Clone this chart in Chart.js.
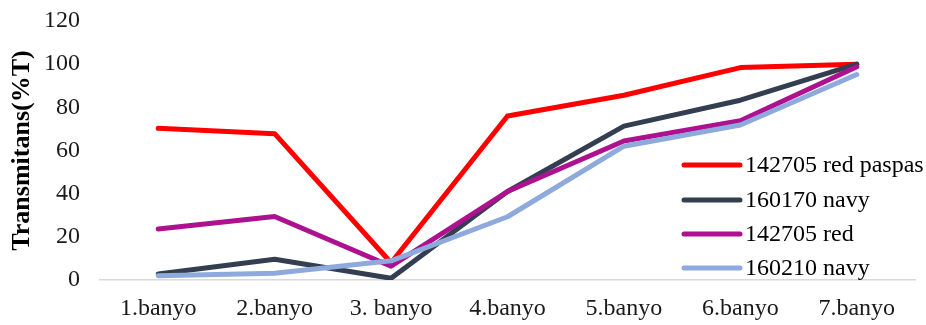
<!DOCTYPE html>
<html>
<head>
<meta charset="utf-8">
<script src="https://cdn.jsdelivr.net/npm/chart.js@4.4.1/dist/chart.umd.min.js"></script>
<style>
  html, body { margin: 0; padding: 0; background: #ffffff; }
  #wrap { width: 926px; height: 325px; }
</style>
</head>
<body>
<div id="wrap"><canvas id="chart" width="926" height="325"></canvas></div>
<script>
// Washing steps (x axis)
const categories = ['1.banyo', '2.banyo', '3. banyo', '4.banyo', '5.banyo', '6.banyo', '7.banyo'];

// Transmittance (%T) per sample after each wash
const seriesNames = ['142705 red paspas', '160170 navy', '142705 red', '160210 navy'];
const redPaspas  = [70.3, 67.8, 8, 76, 85.6, 98.4, 100];
const navy160170 = [2.8, 9.6, 0.8, 41, 71.3, 83.3, 100];
const red142705  = [23.6, 29.4, 6.4, 41, 64.4, 73.8, 98.8];
const navy160210 = [2, 3.1, 8.9, 29.3, 62, 71.8, 95.2];

// Y axis tick values
const yTicks = [0, 20, 40, 60, 80, 100, 120];

const colors = ['#ff0000', '#333f50', '#ad1190', '#8eaadc'];
const values = [redPaspas, navy160170, red142705, navy160210];

const serif = "'Liberation Serif', 'Times New Roman', serif";

// Legend drawn inside the plot area, lower right
const insideLegend = {
  id: 'insideLegend',
  afterDraw(chart) {
    const ctx = chart.ctx;
    const x0 = 684, x1 = 740, tx = 745;
    const rows = [165, 200, 234, 268];
    ctx.save();
    chart.data.datasets.forEach((ds, i) => {
      const y = rows[i];
      ctx.beginPath();
      ctx.lineWidth = 5;
      ctx.lineCap = 'round';
      ctx.strokeStyle = ds.borderColor;
      ctx.moveTo(x0, y);
      ctx.lineTo(x1, y);
      ctx.stroke();
      ctx.fillStyle = '#000000';
      ctx.font = '24px ' + serif;
      ctx.textBaseline = 'middle';
      ctx.textAlign = 'left';
      ctx.fillText(ds.label, tx, y + 1);
    });
    ctx.restore();
  }
};

new Chart(document.getElementById('chart'), {
  type: 'line',
  data: {
    labels: categories,
    datasets: seriesNames.map((name, i) => ({
      label: name,
      data: values[i],
      borderColor: colors[i],
      backgroundColor: colors[i],
      borderWidth: 5,
      borderCapStyle: 'round',
      borderJoinStyle: 'round',
      pointRadius: 0,
      tension: 0,
      order: seriesNames.length - i
    }))
  },
  options: {
    responsive: false,
    animation: false,
    layout: { padding: { top: 21, right: 11, left: 0, bottom: 0 } },
    plugins: {
      legend: { display: false },
      tooltip: { enabled: false }
    },
    scales: {
      x: {
        offset: true,
        grid: { display: false },
        border: { display: true, color: '#d9d9d9', width: 1.5 },
        ticks: {
          color: '#1a1a1a',
          font: { family: serif, size: 24 },
          padding: 6,
          maxRotation: 0,
          autoSkip: false
        },
        afterFit(scale) { scale.height = 45; }
      },
      y: {
        min: 0,
        max: 120,
        afterBuildTicks(scale) { scale.ticks = yTicks.map(v => ({ value: v })); },
        grid: { display: false },
        border: { display: false },
        ticks: {
          color: '#1a1a1a',
          font: { family: serif, size: 24 },
          padding: 12
        },
        title: {
          display: true,
          text: 'Transmitans(%T)',
          color: '#000000',
          font: { family: serif, size: 26, weight: 'bold' },
          padding: { top: 7, bottom: 0 }
        },
        afterFit(scale) {
          scale.width = 100;
          scale.paddingTop = 0;
          scale.paddingBottom = 0;
        }
      }
    }
  },
  plugins: [insideLegend]
});
</script>
</body>
</html>
